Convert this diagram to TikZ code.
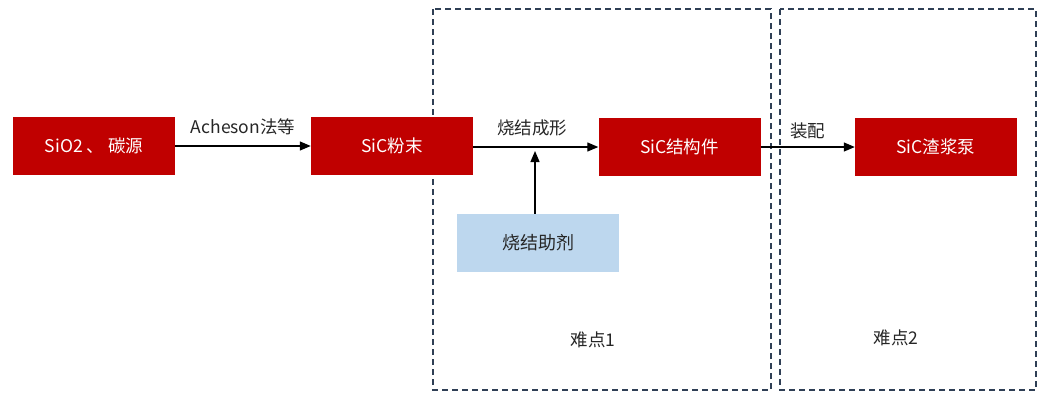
\documentclass[tikz,border=0pt]{standalone}
\usepackage{fontspec}
\setmainfont{Noto Sans CJK SC}
\usetikzlibrary{arrows.meta}
\definecolor{boxred}{HTML}{C00000}
\definecolor{boxblue}{HTML}{BDD7EE}
\definecolor{dashcol}{HTML}{2F3F55}
\definecolor{txtgray}{HTML}{262626}
\begin{document}
\begin{tikzpicture}[x=1pt,y=-1pt,
  redbox/.style={fill=boxred,draw=none,minimum width=162pt,minimum height=58pt,text=white,font=\fontsize{17.5}{20}\selectfont,inner sep=0pt},
  bluebox/.style={fill=boxblue,draw=none,minimum width=162pt,minimum height=58pt,text=txtgray,font=\fontsize{18}{20}\selectfont,inner sep=0pt},
  flow/.style={draw=black,line width=1.3pt,-{Triangle[length=11pt,width=9pt]}},
  lbl/.style={text=txtgray,font=\fontsize{17.5}{20}\selectfont,inner sep=0pt},
  region/.style={draw=dashcol,line width=1.3pt,dash pattern=on 6pt off 4pt}]
\useasboundingbox (0,0) rectangle (1051,394);
\draw[region] (433,9) rectangle (771,390);
\draw[region] (780,9) rectangle (1036,390);
\node[redbox] (a) at (94,146) {SiO2 、 碳源};
\node[redbox] (b) at (392,146) {SiC粉末};
\node[redbox] (c) at (679.5,147) {SiC结构件};
\node[redbox] (d) at (936,147) {SiC渣浆泵};
\node[bluebox] (e) at (538,243) {烧结助剂};
\coordinate (j) at (535,151);
\draw[flow] (a) -- (b) node[lbl,midway,above=10pt] {Acheson法等};
\draw[flow] (b.east) ++(0,1) -- (c.west) node[lbl,pos=0.47,above=10pt] {烧结成形};
\draw[flow] (c) -- (d) node[lbl,pos=0.5,above=7pt] {装配};
\draw[flow] (e.north -| j) -- (j);
\node[lbl] (n1) at (593,340) {难点1};
\node[lbl] (n2) at (896,338) {难点2};
\end{tikzpicture}
\end{document}
